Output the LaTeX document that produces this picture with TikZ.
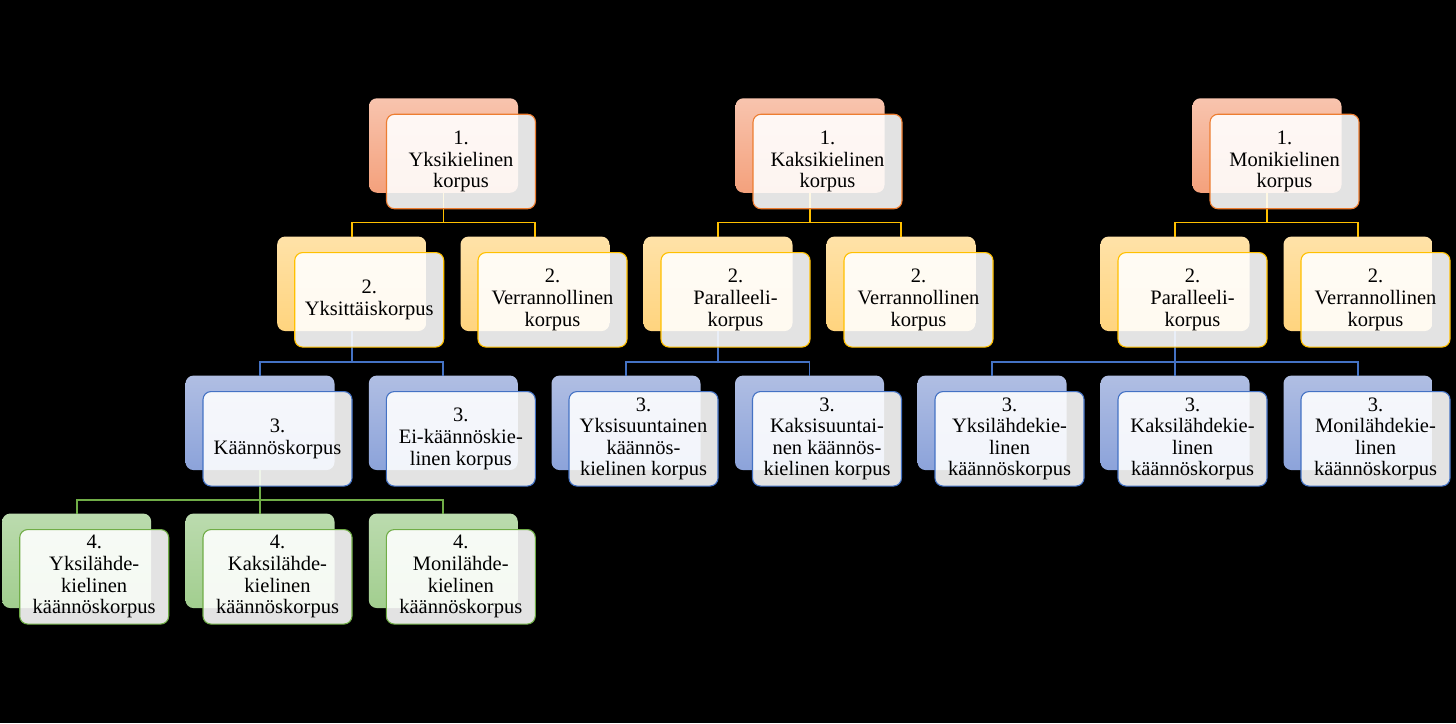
\documentclass[tikz,border=0pt]{standalone}
\usepackage{fontspec}
\setmainfont{Liberation Serif}
\usetikzlibrary{calc}
\definecolor{oA}{HTML}{F8C4AE}\definecolor{oB}{HTML}{F4A17C}\definecolor{oL}{HTML}{ED7D31}
\definecolor{yA}{HTML}{FFE2A8}\definecolor{yB}{HTML}{FFD47E}\definecolor{yL}{HTML}{FFC000}
\definecolor{bA}{HTML}{B0BEE3}\definecolor{bB}{HTML}{8CA3DA}\definecolor{bL}{HTML}{4472C4}
\definecolor{gA}{HTML}{BBDBAE}\definecolor{gB}{HTML}{A2CE8F}\definecolor{gL}{HTML}{70AD47}
\newcommand\boxfont{\fontsize{20.5pt}{21.6pt}\selectfont}
\tikzset{
  box/.style={rounded corners=8pt, minimum width=149pt, minimum height=94.5pt, inner sep=0pt, outer sep=0pt},
  backA/.style={box, top color=oA, bottom color=oB},
  backB/.style={box, top color=yA, bottom color=yB},
  backC/.style={box, top color=bA, bottom color=bB},
  backD/.style={box, top color=gA, bottom color=gB},
  front/.style={box, fill=white, fill opacity=0.89, text opacity=1, draw opacity=1, line width=1.1pt, align=center, font=\boxfont, text=black},
  frontA/.style={front, draw=oL},
  frontB/.style={front, draw=yL},
  frontC/.style={front, draw=bL},
  frontD/.style={front, draw=gL},
  connB/.style={draw=yL, line width=1.8pt},
  connC/.style={draw=bL, line width=1.8pt},
  connD/.style={draw=gL, line width=1.8pt},
}
\begin{document}
\begin{tikzpicture}[x=1pt,y=-1pt]
\fill[black] (0,0) rectangle (1456,723);
\useasboundingbox (0,0) rectangle (1456,723);
% back boxes
\node[backA] (a1) at (443.5,145.5) {};
\node[backA] (a2) at (810,145.5) {};
\node[backA] (a3) at (1267,145.5) {};
\node[backB] (b1) at (351.7,283.8) {};
\node[backB] (b2) at (535,283.8) {};
\node[backB] (b3) at (718,283.8) {};
\node[backB] (b4) at (901,283.8) {};
\node[backB] (b5) at (1175,283.8) {};
\node[backB] (b6) at (1358,283.8) {};
\node[backC] (c1) at (260,422.8) {};
\node[backC] (c2) at (443.3,422.8) {};
\node[backC] (c3) at (626,422.8) {};
\node[backC] (c4) at (809.5,422.8) {};
\node[backC] (c5) at (992,422.8) {};
\node[backC] (c6) at (1175,422.8) {};
\node[backC] (c7) at (1358,422.8) {};
\node[backD] (d1) at (76.7,560.8) {};
\node[backD] (d2) at (260,560.8) {};
\node[backD] (d3) at (443.3,560.8) {};
% connectors
\foreach \p/\c in {a1/b1,a1/b2,a2/b3,a2/b4,a3/b5,a3/b6}
  \draw[connB] (\p.south) -- (\p.south |- 0,222.5) -| (\c.north);
\foreach \p/\c in {b1/c1,b1/c2,b3/c3,b3/c4,b5/c5,b5/c6,b5/c7}
  \draw[connC] (\p.south) -- (\p.south |- 0,361.7) -| (\c.north);
\foreach \p/\c in {c1/d1,c1/d2,c1/d3}
  \draw[connD] (\p.south) -- (\p.south |- 0,500) -| (\c.north);
% front boxes
\node[frontA] (fa1) at ($(a1.center)+(17.5,16)$) {1.\\Yksikielinen\\korpus};
\node[frontA] (fa2) at ($(a2.center)+(17.5,16)$) {1.\\Kaksikielinen\\korpus};
\node[frontA] (fa3) at ($(a3.center)+(17.5,16)$) {1.\\Monikielinen\\korpus};
\node[frontB] (fb1) at ($(b1.center)+(17.5,16)$) {2.\\Yksittäiskorpus};
\node[frontB] (fb2) at ($(b2.center)+(17.5,16)$) {2.\\Verrannollinen\\korpus};
\node[frontB] (fb3) at ($(b3.center)+(17.5,16)$) {2.\\Paralleeli-\\korpus};
\node[frontB] (fb4) at ($(b4.center)+(17.5,16)$) {2.\\Verrannollinen\\korpus};
\node[frontB] (fb5) at ($(b5.center)+(17.5,16)$) {2.\\Paralleeli-\\korpus};
\node[frontB] (fb6) at ($(b6.center)+(17.5,16)$) {2.\\Verrannollinen\\korpus};
\node[frontC] (fc1) at ($(c1.center)+(17.5,16)$) {3.\\Käännöskorpus};
\node[frontC] (fc2) at ($(c2.center)+(17.5,16)$) {3.\\Ei-käännöskie-\\linen korpus};
\node[frontC] (fc3) at ($(c3.center)+(17.5,16)$) {3.\\Yksisuuntainen\\käännös-\\kielinen korpus};
\node[frontC] (fc4) at ($(c4.center)+(17.5,16)$) {3.\\Kaksisuuntai-\\nen käännös-\\kielinen korpus};
\node[frontC] (fc5) at ($(c5.center)+(17.5,16)$) {3.\\Yksilähdekie-\\linen\\käännöskorpus};
\node[frontC] (fc6) at ($(c6.center)+(17.5,16)$) {3.\\Kaksilähdekie-\\linen\\käännöskorpus};
\node[frontC] (fc7) at ($(c7.center)+(17.5,16)$) {3.\\Monilähdekie-\\linen\\käännöskorpus};
\node[frontD] (fd1) at ($(d1.center)+(17.5,16)$) {4.\\Yksilähde-\\kielinen\\käännöskorpus};
\node[frontD] (fd2) at ($(d2.center)+(17.5,16)$) {4.\\Kaksilähde-\\kielinen\\käännöskorpus};
\node[frontD] (fd3) at ($(d3.center)+(17.5,16)$) {4.\\Monilähde-\\kielinen\\käännöskorpus};
\end{tikzpicture}
\end{document}
